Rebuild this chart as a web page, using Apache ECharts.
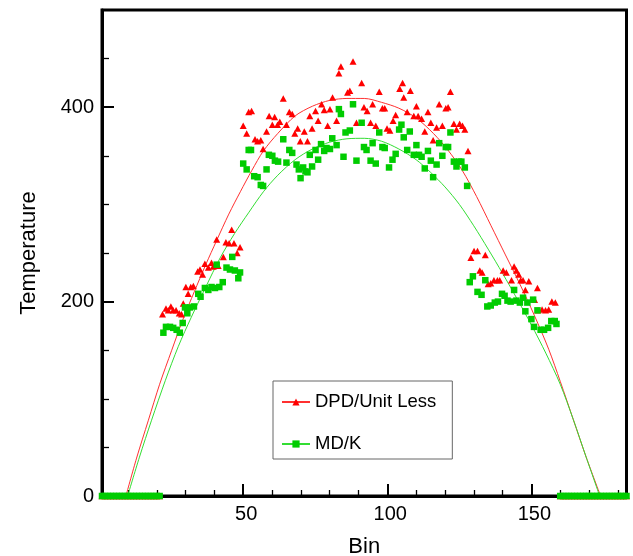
<!DOCTYPE html>
<html><head><meta charset="utf-8">
<script src="https://cdn.jsdelivr.net/npm/echarts@6/dist/echarts.min.js"></script>
<style>html,body{margin:0;padding:0;background:#fff}#c{width:633px;height:556px}</style>
</head><body><div id="c"></div>
<script>
// ---- data ----
const seriesNames = ['DPD/Unit Less', 'MD/K'];
const xTickValues = [50, 100, 150];
const xMinorTickValues = [10, 20, 30, 40, 60, 70, 80, 90, 110, 120, 130, 140, 160, 170, 180];
const zeroBins = [1,2,3,4,5,6,7,8,9,10,11,12,13,14,15,16,17,18,19,20,21,
  160,161,162,163,164,165,166,167,168,169,170,171,172,173,174,175,176,177,178,179,180,181,182,183];

const dpdX = [22.0,23.2,24.0,24.9,25.7,26.7,27.8,28.6,29.2,30.1,30.9,31.8,32.7,34.2,35.0,35.9,36.7,37.9,39.0,39.6,40.8,41.3,43.1,44.0,45.1,46.0,46.8,47.9,48.9,
  50.0,51.2,51.9,52.9,54.1,55.0,56.1,56.9,58.1,59.0,60.1,60.9,61.9,62.7,63.9,65.0,66.0,67.0,67.9,68.9,69.8,71.2,72.3,73.1,73.9,75.1,76.0,77.2,78.1,79.3,80.1,81.0,82.4,83.2,83.9,86.2,87.0,88.1,89.3,
  91.1,91.9,93.0,94.2,94.9,96.0,97.2,98.3,99.1,99.9,100.9,102.0,102.9,104.3,105.3,105.7,106.9,108.0,109.2,110.1,110.7,111.9,113.0,114.1,115.1,115.9,117.1,118.0,119.1,120.3,121.1,121.9,123.1,124.0,125.1,126.1,126.9,128.0,
  129.0,130.1,131.3,132.1,132.9,134.0,135.0,135.9,137.0,138.2,139.0,140.2,141.3,143.1,144.0,144.8,145.6,146.3,147.1,147.9,149.1,151.1,152.1,152.3,153.7,154.9,156.0,157.1,158.3];
const dpdY = [187,193,191,195,191,191,188,187,198,215,208,215,216,231,233,228,239,235,240,236,264,237,246,261,260,274,260,250,256,
  381,373,395,396,367,365,366,357,375,391,382,390,382,385,409,382,395,393,373,378,365,375,365,391,378,396,386,403,397,381,398,410,386,435,442,415,417,447,384,
  425,400,396,384,403,381,416,399,399,378,376,386,392,419,425,410,395,417,391,401,391,388,375,395,384,366,379,403,381,399,400,416,383,377,383,381,377,355,
  245,252,252,232,230,248,218,219,222,222,222,232,230,222,236,232,228,222,222,212,221,202,214,191,192,191,192,200,199];

const mdX = [22.3,23.2,24.6,25.7,26.9,28.0,29.0,29.8,30.6,31.5,32.9,34.4,35.2,36.7,37.9,39.0,40.2,40.8,41.7,42.9,44.2,45.4,46.2,47.1,48.3,48.9,
  50.0,51.2,51.9,52.7,53.8,55.0,56.1,56.9,58.1,58.9,60.1,61.0,62.1,63.9,65.0,66.0,67.0,68.5,69.3,69.9,70.8,71.6,72.3,73.1,73.9,75.1,76.0,77.0,78.1,78.9,80.1,80.9,82.4,83.2,83.9,84.8,85.5,87.0,88.1,89.3,
  91.1,91.9,92.8,94.2,94.9,96.0,97.2,98.3,99.1,100.6,101.8,102.9,104.1,104.9,105.7,106.9,107.8,109.2,110.1,111.0,111.9,113.0,114.1,115.1,115.9,117.1,118.0,119.1,120.3,121.1,121.9,123.1,124.0,124.9,125.7,126.9,127.7,
  128.6,129.7,131.3,132.7,134.0,134.7,135.9,137.3,138.4,139.8,140.7,141.7,142.8,144.0,144.8,146.0,147.1,147.9,148.6,150.0,150.6,150.9,152.1,153.2,154.4,155.8,156.9,158.1,158.7];
const mdY = [168,174,174,173,171,168,178,194,188,194,195,208,205,214,212,215,214,238,215,220,235,233,246,232,224,230,
  342,336,356,356,329,328,320,319,336,351,350,345,344,367,343,356,353,341,336,327,338,334,333,351,339,356,346,362,355,358,357,368,361,398,393,349,374,376,403,345,
  384,359,356,345,363,342,374,359,358,338,346,352,377,382,369,356,375,351,361,351,349,337,355,345,328,341,363,350,359,359,374,344,339,344,344,338,319,
  220,226,210,207,222,195,196,199,200,208,206,201,200,212,201,199,204,190,199,182,202,174,191,171,171,173,180,180,177];

// fitted curves at these bins
const dpdFitX = [9.3,13,17.1,21,25.2,29,33,37,40.8,45,49,53,57,62,68,74,80,86,92,98,104,110,116,121,126,131,136,141,146,151,156,160,164.5,169,174];
const dpdFitY = [0,39,78,115,150,181,210,238,263,290,313,335,355,373,391,401,407,409,409,405,399,389,373,356,335,308,278,248,218,186,151,118,79,40,0];
const mdFitX = [9.9,14,18.2,23,27.5,32,37,42,47,52,57,62,68,74,80,86,92,98,104,110,115,120,125,130,135,140,145,150,155,160,164.5,169,173.7];
const mdFitY = [0,40,78,119,154,184,215,245,270,292,313,330,346,357,364,367.5,368,365,357,346,333,318,300,278,254,229,203,176,147,115,79,40,0];

// ---- build ----
function pairs(xs, ys) { return xs.map((x, i) => [x, ys[i]]); }
const zeroPts = zeroBins.map(b => [b, 0]);
const RED = '#ff0000', GREEN = '#00cc00';
const FONT = "'Liberation Sans', Arial, Helvetica, sans-serif";

const chart = echarts.init(document.getElementById('c'), null, {renderer: 'canvas'});
chart.setOption({
  animation: false,
  backgroundColor: '#fff',
  grid: {left: 102, right: 6.5, top: 10, bottom: 60, containLabel: false, outerBoundsMode: 'none',
         show: true, borderColor: '#000', borderWidth: 3, backgroundColor: 'transparent'},
  xAxis: [{
    type: 'value', min: 1, max: 183,
    name: 'Bin', nameLocation: 'middle', nameGap: 40,
    nameTextStyle: {fontFamily: FONT, fontSize: 22, color: '#000'},
    axisLine: {show: true, onZero: false, lineStyle: {color: '#000', width: 3}},
    axisTick: {show: true, inside: true, length: 12, customValues: xTickValues, lineStyle: {color: '#000', width: 2}},
    axisLabel: {customValues: xTickValues, fontFamily: FONT, fontSize: 20, color: '#000', margin: 8, padding: [0, 0, 0, 6]},
    splitLine: {show: false}
  }, {
    type: 'value', min: 1, max: 183, position: 'bottom', gridIndex: 0,
    axisLine: {show: false, onZero: false},
    axisTick: {show: true, inside: true, length: 6, customValues: xMinorTickValues, lineStyle: {color: '#000', width: 1.3}},
    axisLabel: {show: false},
    splitLine: {show: false}
  }],
  yAxis: {
    type: 'value', min: 0, max: 500, interval: 200,
    name: 'Temperature', nameLocation: 'middle', nameGap: 62, nameRotate: 90,
    nameTextStyle: {fontFamily: FONT, fontSize: 22, color: '#000'},
    axisLine: {show: true, onZero: false, lineStyle: {color: '#000', width: 3}},
    axisTick: {show: true, inside: true, length: 12, lineStyle: {color: '#000', width: 2}},
    minorTick: {show: true, splitNumber: 4, length: 7, lineStyle: {color: '#000', width: 1.3}},
    axisLabel: {fontFamily: FONT, fontSize: 20, color: '#000', margin: 8, showMaxLabel: false},
    splitLine: {show: false}
  },
  legend: {
    orient: 'vertical', left: 273, top: 381,
    data: seriesNames,
    backgroundColor: '#fff', borderColor: '#666', borderWidth: 1, borderRadius: 0,
    padding: [10, 16, 4, 8], itemGap: 20, itemWidth: 28, itemHeight: 9,
    textStyle: {fontFamily: FONT, fontSize: 18.5, color: '#000', lineHeight: 22}
  },
  series: [
    {name: seriesNames[0], type: 'line', data: pairs(dpdFitX, dpdFitY), smooth: 0.3,
     symbol: 'triangle', showSymbol: false, symbolSize: 7, color: RED,
     lineStyle: {color: '#ff3030', width: 1}, itemStyle: {color: RED}, z: 2, silent: true},
    {name: seriesNames[1], type: 'line', data: pairs(mdFitX, mdFitY), smooth: 0.3,
     symbol: 'rect', showSymbol: false, symbolSize: 7, color: GREEN,
     lineStyle: {color: '#33dd33', width: 1}, itemStyle: {color: GREEN}, z: 2, silent: true},
    {name: seriesNames[0], type: 'scatter', data: pairs(dpdX, dpdY).concat(zeroPts),
     symbol: 'triangle', symbolSize: [7, 6.5], itemStyle: {color: RED, opacity: 1}, z: 3},
    {name: seriesNames[1], type: 'scatter', data: pairs(mdX, mdY).concat(zeroPts),
     symbol: 'rect', symbolSize: 6.5, itemStyle: {color: GREEN, opacity: 1}, z: 4}
  ]
});
</script>
</body></html>
